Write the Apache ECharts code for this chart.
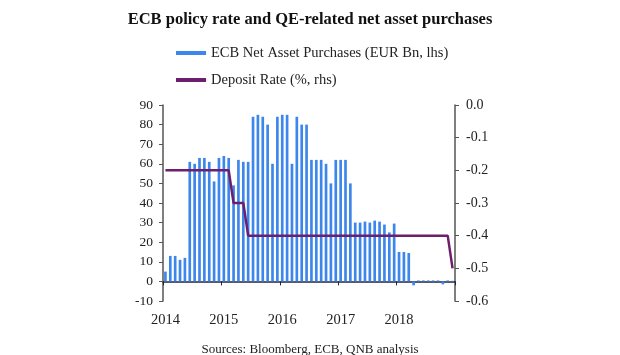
<!DOCTYPE html>
<html>
<head>
<meta charset="utf-8">
<script src="https://cdn.jsdelivr.net/npm/echarts@6/dist/echarts.min.js"></script>
<style>
html,body{margin:0;padding:0;background:#fff;}
#chart{width:620px;height:355px;}
</style>
</head>
<body>
<div id="chart"></div>
<script>
// ---- data ----
var years = ['2014', '2015', '2016', '2017', '2018'];
var monthNums = ['01','02','03','04','05','06','07','08','09','10','11','12'];
var purchases = [
  5, 13, 13, 11, 12,
  61, 60, 63, 63, 61, 51, 63, 64, 63,
  49, 62, 61, 61,
  84, 85, 84, 80, 60, 84, 85, 85, 60, 84, 80, 80,
  62, 62, 62, 60, 50, 62, 62, 62, 50,
  30, 30, 30.5, 30, 31, 30.5, 29, 25, 29.5,
  15, 15, 14.5,
  -2, 0.5, 0.5, 0.5, 0.5, 0.5, -1.5, 0.5, 0.3
];
var depositRate = [
  -0.2, -0.2, -0.2, -0.2, -0.2, -0.2, -0.2, -0.2, -0.2, -0.2, -0.2, -0.2, -0.2, -0.2,
  -0.3, -0.3, -0.3,
  -0.4, -0.4, -0.4, -0.4, -0.4, -0.4, -0.4, -0.4, -0.4, -0.4, -0.4, -0.4, -0.4, -0.4,
  -0.4, -0.4, -0.4, -0.4, -0.4, -0.4, -0.4, -0.4, -0.4, -0.4, -0.4, -0.4, -0.4, -0.4,
  -0.4, -0.4, -0.4, -0.4, -0.4, -0.4, -0.4, -0.4, -0.4, -0.4, -0.4, -0.4, -0.4, -0.4,
  -0.5
];
var seriesNames = ['ECB Net Asset Purchases (EUR Bn, lhs)', 'Deposit Rate (%, rhs)'];
var titleText = 'ECB policy rate and QE-related net asset purchases';
var sourceText = 'Sources: Bloomberg, ECB, QNB analysis';

var months = [];
years.forEach(function (y) { monthNums.forEach(function (m) { months.push(y + '-' + m); }); });

var serif = '"Liberation Serif", "DejaVu Serif", serif';
var chart = echarts.init(document.getElementById('chart'), null, {renderer: 'canvas'});
var option = {
  backgroundColor: '#ffffff',
  animation: false,
  title: [{
    text: titleText,
    left: 'center',
    top: 6,
    textStyle: {fontFamily: serif, fontWeight: 'bold', fontSize: 16.5, color: '#111'}
  }, {
    text: sourceText,
    left: 'center',
    top: 338,
    textStyle: {fontFamily: serif, fontWeight: 'normal', fontSize: 13, color: '#222'}
  }],
  legend: {
    orient: 'vertical',
    left: 171,
    top: 40,
    itemWidth: 30,
    itemHeight: 4,
    itemGap: 11,
    data: [{name: seriesNames[0], icon: 'rect', itemStyle: {color: '#3d86ec'}},
           {name: seriesNames[1], icon: 'rect', itemStyle: {color: '#6d1f6f'}}],
    textStyle: {fontFamily: serif, fontSize: 14.5, color: '#222', lineHeight: 16}
  },
  grid: {left: 163, right: 165, top: 105, height: 196},
  xAxis: [{
    type: 'category',
    data: months,
    position: 'bottom',
    boundaryGap: true,
    axisLine: {show: true, onZero: true, onZeroAxisIndex: 0, lineStyle: {color: '#1e2540', width: 1.5}},
    axisTick: {show: true, length: 4, interval: function (i) { return i % 12 === 0; }, lineStyle: {color: '#1e2540'}},
    axisLabel: {show: false},
    splitLine: {show: false}
  }, {
    type: 'category',
    data: months,
    position: 'bottom',
    boundaryGap: true,
    axisLine: {show: false, onZero: false},
    axisTick: {show: false},
    axisLabel: {
      show: true,
      margin: 12,
      interval: function (i) { return i % 12 === 0; },
      formatter: function (v) { return v.slice(0, 4); },
      fontFamily: serif, fontSize: 14.5, color: '#222'
    },
    splitLine: {show: false}
  }],
  yAxis: [{
    type: 'value',
    min: -10, max: 90, interval: 10,
    position: 'left',
    axisLine: {show: true, onZero: false, lineStyle: {color: '#555', width: 1.5}},
    axisTick: {show: true, length: 4, lineStyle: {color: '#555'}},
    axisLabel: {margin: 10, fontFamily: serif, fontSize: 13.5, color: '#222'},
    splitLine: {show: false}
  }, {
    type: 'value',
    min: -0.6, max: 0, interval: 0.1,
    position: 'right',
    axisLine: {show: true, onZero: false, lineStyle: {color: '#555', width: 1.5}},
    axisTick: {show: true, length: 4, lineStyle: {color: '#555'}},
    axisLabel: {margin: 11, fontFamily: serif, fontSize: 14, color: '#222',
      formatter: function (v) { return v.toFixed(1); }},
    splitLine: {show: false}
  }],
  series: [{
    name: seriesNames[0],
    type: 'bar',
    xAxisIndex: 0,
    yAxisIndex: 0,
    data: purchases,
    barWidth: '55%',
    itemStyle: {color: '#3d86ec'}
  }, {
    name: seriesNames[1],
    type: 'line',
    xAxisIndex: 0,
    yAxisIndex: 1,
    data: depositRate,
    symbol: 'none',
    lineStyle: {color: '#6d1f6f', width: 2.5},
    itemStyle: {color: '#6d1f6f'},
    z: 5
  }]
};
chart.setOption(option);
</script>
</body>
</html>
